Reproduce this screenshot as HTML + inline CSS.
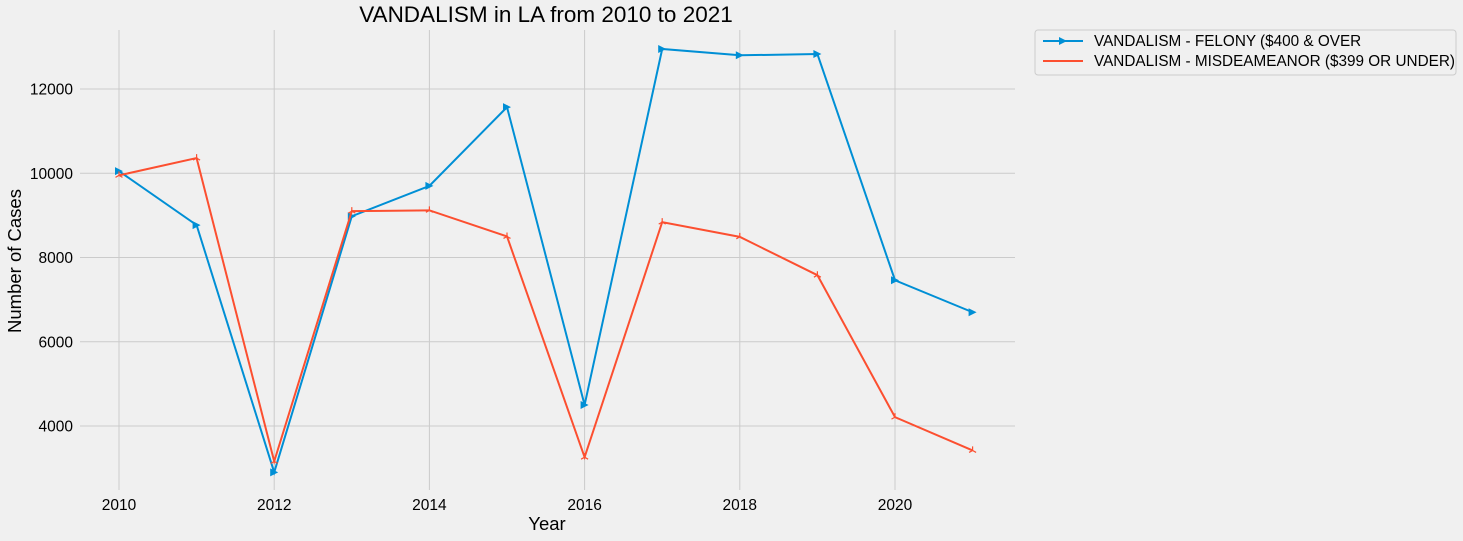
<!DOCTYPE html>
<html><head><meta charset="utf-8">
<style>
html,body{margin:0;padding:0;background:#f0f0f0;}
svg{display:block;font-family:"Liberation Sans","DejaVu Sans",sans-serif;}
</style></head>
<body>
<svg id="chart" width="1463" height="541" viewBox="0 0 1463 541" xmlns="http://www.w3.org/2000/svg">
<rect width="1463" height="541" fill="#f0f0f0"/>
<g id="grid"></g>
<g id="marks"></g>
<g id="axes"></g>
<text x="546" y="22" font-size="22.5" text-anchor="middle" fill="#000">VANDALISM in LA from 2010 to 2021</text>
<text x="547" y="530" font-size="18.5" text-anchor="middle">Year</text>
<text transform="translate(21,261) rotate(-90)" font-size="18.5" text-anchor="middle">Number of Cases</text>
<g>
<rect x="1035" y="30" width="421" height="45" rx="3" fill="#f0f0f0" stroke="#cccccc"/>
<g>
<line x1="1043" y1="41" x2="1083" y2="41" stroke="#008fd5" stroke-width="2"/>
<path d="M1059,37 L1067,41 L1059,45 Z" fill="#008fd5"/>
<text x="1094" y="46" font-size="15.3">VANDALISM - FELONY ($400 &amp; OVER</text></g>
<g>
<line x1="1043" y1="61" x2="1083" y2="61" stroke="#fc4f30" stroke-width="2"/>
<text x="1094" y="66" font-size="15.3">VANDALISM - MISDEAMEANOR ($399 OR UNDER)</text></g>
</g>
</svg>
<script>
const years=[2010,2011,2012,2013,2014,2015,2016,2017,2018,2019,2020,2021];
const felony=[10050,8770,2900,8980,9700,11570,4500,12950,12800,12830,7460,6700];
const misdemeanor=[9950,10360,3160,9100,9120,8500,3260,8840,8490,7580,4210,3420];
const xTicks=[2010,2012,2014,2016,2018,2020];
const yTicks=[4000,6000,8000,10000,12000];
const X=v=>119+(v-2010)*77.6;
const Y=v=>426-(v-4000)*0.042125;
const NS="http://www.w3.org/2000/svg";
const grid=document.getElementById('grid'),marks=document.getElementById('marks'),axes=document.getElementById('axes');
function el(t,a,p){const e=document.createElementNS(NS,t);for(const k in a)e.setAttribute(k,a[k]);p.appendChild(e);return e;}
xTicks.forEach(t=>{
const l=el('line',{x1:X(t),x2:X(t),y1:30,y2:490,stroke:'#cbcbcb','stroke-width':1},grid);


const tx=el('text',{x:X(t),y:510,'font-size':15.5,'text-anchor':'middle'},axes);tx.textContent=t;


});
yTicks.forEach(t=>{
const l=el('line',{x1:80,x2:1015,y1:Y(t),y2:Y(t),stroke:'#cbcbcb','stroke-width':1},grid);


const tx=el('text',{x:73,y:Y(t)+5.5,'font-size':15.5,'text-anchor':'end'},axes);tx.textContent=t;


});
function series(vals,color,name,marker){
const pl=el('polyline',{points:vals.map((v,i)=>X(years[i])+','+Y(v)).join(' '),fill:'none',stroke:color,'stroke-width':2},marks);


vals.forEach((v,i)=>{
const x=X(years[i]),y=Y(v);let m;
if(marker==='tri')m=el('path',{d:`M${x-4},${y-4} L${x+4},${y} L${x-4},${y+4} Z`,fill:color},marks);
else m=el('path',{d:`M${x},${y-4} L${x},${y} M${x-3.5},${y+2} L${x},${y} L${x+3.5},${y+2}`,stroke:color,'stroke-width':1.2,fill:'none'},marks);


});
}
series(felony,'#008fd5','felony','tri');
series(misdemeanor,'#fc4f30','misdemeanor','star');
</script>
</body></html>
